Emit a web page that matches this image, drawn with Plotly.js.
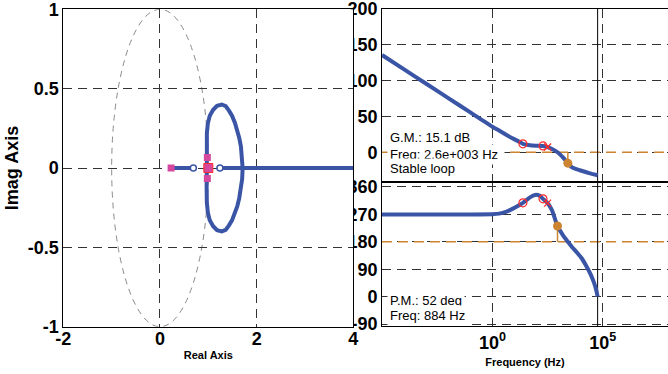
<!DOCTYPE html>
<html><head><meta charset="utf-8">
<script src="https://cdn.plot.ly/plotly-3.0.1.min.js"></script>
<style>html,body{margin:0;padding:0;background:#fff;}#chart{width:668px;height:374px;}</style>
</head><body><div id="chart"></div>
<script>
// ---- Bode magnitude (open loop) ----
const magFreqHz = [1e-5,1e-4,1e-3,0.01,0.1,1,2,4,8,16,24,50,100,195,316,500,884,1600,2600,4000,6300,9000,18000,32000,58000];
const magDb     = [135.4,115.4,95.4,75.4,55.5,35.6,30.3,24.8,19.5,14.8,11.8,9.8,9.2,8.8,7.3,4.5,0,-7.5,-15.1,-21,-23.5,-25,-27.8,-30,-32];
// ---- Bode phase ----
const phaseFreqHz = [1e-5,1e-3,0.1,1,2,4,8,16,24,50,85,140,195,316,500,884,1600,2600,4000,6300,11000,18000,28000,40000,50000,58000];
const phaseDeg    = [270,270,270,270.5,272.5,278,288,300,308,326,334,331,321,307,283,232,200,180,163,147,126,100,73,45,22,0];
// compensator zeros / pole on the Bode curves
const compZeroHz = [24,195];
const compZeroMagDb = [11.8,8.8];
const compZeroPhase = [308,321];
const compPoleHz = [316];
const compPoleMagDb = [7.3];
const compPolePhase = [307];
// margins
const gmFreqHz = 2600, gmDb = 15.1;
const pmFreqHz = 884, pmDeg = 52;
const nyquistHz = 58000;
const magTicks = [0,50,100,150,200];
const phaseTicks = [-90,0,90,180,270,360];
const phaseTickText = ['-90','0','90','180','270','360'];
const freqTicks = [1,1e5];
const freqTickText = ['10<sup>0</sup>','10<sup>5</sup>'];
// ---- Root locus ----
const locusLoopRe = [0.97,0.965,0.97,0.99,1.03,1.10,1.18,1.28,1.36,1.43,1.49,1.55,1.60,1.64,1.675,1.70,1.71,1.70,1.675,1.64,1.60,1.55,1.49,1.43,1.36,1.28,1.18,1.10,1.03,0.99,0.97,0.965,0.97];
const locusLoopIm = [0,0.12,0.22,0.28,0.33,0.367,0.392,0.40,0.39,0.36,0.33,0.285,0.24,0.19,0.135,0.07,0,-0.07,-0.135,-0.19,-0.24,-0.285,-0.33,-0.36,-0.39,-0.40,-0.392,-0.367,-0.33,-0.28,-0.22,-0.12,0];
const locusLeftRe = [0.23,0.69], locusLeftIm = [0,0];
const locusRightRe = [1.24,4.5], locusRightIm = [0,0];
const clPoleRe = [0.23,0.98,0.98], clPoleIm = [0,0.066,-0.066];
const clPoleCenterRe = [1.0], clPoleCenterIm = [0];
const olZeroRe = [0.69,1.24], olZeroIm = [0,0];
const reTicks = [-2,0,2,4], reTickText = ['-2','0','2','4'];
const imTicks = [-1,-0.5,0,0.5,1], imTickText = ['-1','-0.5','0','0.5','1'];

const BLUE = '#3b55a6', PINK = '#d4489e', RED = '#ff2a2a', ORANGE = '#cd8430';
const FONT = 'Liberation Sans, Arial, Helvetica, sans-serif';
const GRID = {showgrid:true, gridcolor:'#333', gridwidth:1, griddash:'9px,6px', zeroline:false,
  showline:true, linecolor:'#000', linewidth:1, ticks:'', ticklabeloverflow:'allow',
  tickfont:{family:FONT, size:18, color:'#000', weight:'bold'}};

const traces = [
  // magnitude
  {x:[1e-5,1e8], y:[0,0], xaxis:'x', yaxis:'y', mode:'lines', line:{color:ORANGE, width:1.5, dash:'10px,6px'}},
  {x:[gmFreqHz,gmFreqHz], y:[0,-gmDb], xaxis:'x', yaxis:'y', mode:'lines', line:{color:ORANGE, width:1.5}},
  {x:[nyquistHz,nyquistHz], y:[-40,200], xaxis:'x', yaxis:'y', mode:'lines', line:{color:'#000', width:1}},
  {x:magFreqHz, y:magDb, xaxis:'x', yaxis:'y', mode:'lines', line:{color:BLUE, width:4, shape:'spline', smoothing:0.5}},
  {x:compZeroHz, y:compZeroMagDb, xaxis:'x', yaxis:'y', mode:'markers', marker:{symbol:'circle-open', size:8, color:RED, line:{width:1.2}}},
  {x:compPoleHz, y:compPoleMagDb, xaxis:'x', yaxis:'y', mode:'markers', marker:{symbol:'x-thin-open', size:7, color:RED, line:{width:1.2, color:RED}}},
  {x:[gmFreqHz], y:[-gmDb], xaxis:'x', yaxis:'y', mode:'markers', marker:{symbol:'circle', size:9, color:ORANGE}},
  // phase
  {x:[1e-5,1e8], y:[180,180], xaxis:'x2', yaxis:'y2', mode:'lines', line:{color:ORANGE, width:1.5, dash:'10px,6px'}},
  {x:[pmFreqHz,pmFreqHz], y:[180,180+pmDeg], xaxis:'x2', yaxis:'y2', mode:'lines', line:{color:ORANGE, width:1.5}},
  {x:[nyquistHz,nyquistHz], y:[-100,380], xaxis:'x2', yaxis:'y2', mode:'lines', line:{color:'#000', width:1}},
  {x:phaseFreqHz, y:phaseDeg, xaxis:'x2', yaxis:'y2', mode:'lines', line:{color:BLUE, width:4, shape:'spline', smoothing:0.5}},
  {x:compZeroHz, y:compZeroPhase, xaxis:'x2', yaxis:'y2', mode:'markers', marker:{symbol:'circle-open', size:8, color:RED, line:{width:1.2}}},
  {x:compPoleHz, y:compPolePhase, xaxis:'x2', yaxis:'y2', mode:'markers', marker:{symbol:'x-thin-open', size:7, color:RED, line:{width:1.2, color:RED}}},
  {x:[pmFreqHz], y:[180+pmDeg], xaxis:'x2', yaxis:'y2', mode:'markers', marker:{symbol:'circle', size:9, color:ORANGE}},
  // root locus
  {x:locusLeftRe, y:locusLeftIm, xaxis:'x3', yaxis:'y3', mode:'lines', line:{color:BLUE, width:4}},
  {x:locusRightRe, y:locusRightIm, xaxis:'x3', yaxis:'y3', mode:'lines', line:{color:BLUE, width:4}},
  {x:locusLoopRe, y:locusLoopIm, xaxis:'x3', yaxis:'y3', mode:'lines', line:{color:BLUE, width:4}},
  {x:olZeroRe, y:olZeroIm, xaxis:'x3', yaxis:'y3', mode:'markers', marker:{symbol:'circle', size:6, color:'#fff', line:{width:1.5, color:BLUE}}},
  {x:clPoleRe, y:clPoleIm, xaxis:'x3', yaxis:'y3', mode:'markers', marker:{symbol:'square', size:7, color:PINK}},
  {x:clPoleCenterRe, y:clPoleCenterIm, xaxis:'x3', yaxis:'y3', mode:'markers', marker:{symbol:'square', size:9, color:PINK, line:{width:1, color:RED}}}
];

const ann = (x, y, t) => ({x:x, y:y, xref:'paper', yref:'paper', xanchor:'left', yanchor:'middle', text:t, showarrow:false,
  bgcolor:'#fff', borderpad:2, font:{family:FONT, size:13, color:'#000'}});

const layout = {
  width:668, height:374, margin:{l:0,r:0,t:0,b:0}, paper_bgcolor:'#fff', plot_bgcolor:'#fff', showlegend:false,
  xaxis: Object.assign({}, GRID, {type:'log', domain:[0.5719,1], range:[-5,7.95], anchor:'y', tickvals:freqTicks, showticklabels:false, mirror:true}),
  yaxis: Object.assign({}, GRID, {domain:[0.516,0.977], range:[-40,200], anchor:'x', tickvals:magTicks, ticktext:magTicks.map(String)}),
  xaxis2: Object.assign({}, GRID, {type:'log', domain:[0.5719,1], range:[-5,7.95], anchor:'y2', tickvals:freqTicks, ticktext:freqTickText, mirror:true,
    title:{text:'Frequency (Hz)', font:{family:FONT, size:11, color:'#000', weight:'bold'}, standoff:6}}),
  yaxis2: Object.assign({}, GRID, {domain:[0.1283,0.5107], range:[-96.6,373.1], anchor:'x2', tickvals:phaseTicks, ticktext:phaseTickText}),
  xaxis3: Object.assign({}, GRID, {domain:[0.0948,0.5289], range:[-2,4], anchor:'y3', tickvals:reTicks, ticktext:reTickText, mirror:true,
    ticklabelstandoff:-4,
    title:{text:'Real Axis', font:{family:FONT, size:11, color:'#000', weight:'bold'}, standoff:3}}),
  yaxis3: Object.assign({}, GRID, {domain:[0.1265,0.9751], range:[-1,1], anchor:'x3', tickvals:imTicks, ticktext:imTickText, mirror:true,
    title:{text:'Imag Axis', font:{family:FONT, size:18, color:'#000', weight:'bold'}, standoff:4}}),
  shapes:[
    {type:'rect', xref:'x3', yref:'y3', x0:-2, x1:4, y0:-1, y1:1, fillcolor:'#fff', line:{width:0}, layer:'below'},
    {type:'circle', xref:'x3', yref:'y3', x0:-1, x1:1, y0:-1, y1:1, line:{color:'#8a8a8a', width:1, dash:'6px,5px'}, layer:'below'}
  ],
  annotations:[
    ann(0.5793, 1-137.7/374, 'G.M.: 15.1 dB'),
    ann(0.5793, 1-154/374, 'Freq: 2.6e+003 Hz&nbsp;'),
    ann(0.5793, 1-168.3/374, 'Stable loop'),
    ann(0.5793, 1-300.7/374, 'P.M.: 52 deg'),
    ann(0.5793, 1-315.7/374, 'Freq: 884 Hz')
  ]
};
Plotly.newPlot('chart', traces, layout, {staticPlot:true, displayModeBar:false});
</script></body></html>
